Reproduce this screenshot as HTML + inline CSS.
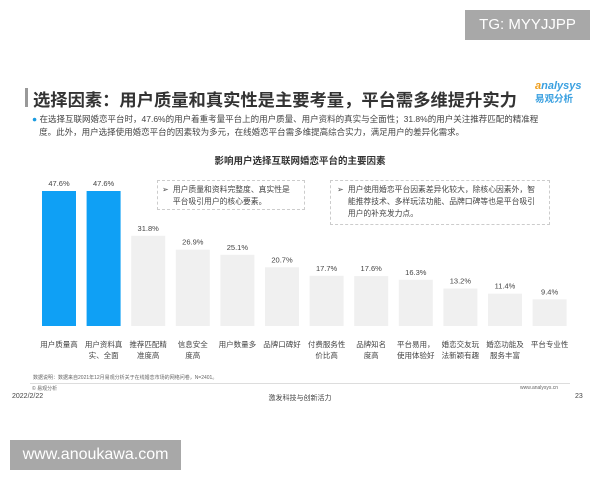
<!DOCTYPE html>
<html><head><meta charset="utf-8"><style>
body{margin:0;width:600px;height:480px;background:#fff;position:relative;overflow:hidden;font-family:"Liberation Sans","Noto Sans CJK SC",sans-serif;}
.a{position:absolute;}
</style></head><body>
<div class="a" style="left:465px;top:10px;width:125px;height:30px;background:#a8a8a8;color:#fff;font-size:15px;line-height:30px;text-align:center;">TG: MYYJJPP</div>
<div class="a" style="left:25px;top:88px;width:3px;height:19px;background:#999;"></div>
<div class="a" style="left:33px;top:86px;font-size:17.3px;font-weight:bold;color:#333;white-space:nowrap;">选择因素：用户质量和真实性是主要考量，平台需多维提升实力</div>
<div class="a" style="left:535px;top:80px;font-size:11px;color:#3aa0e0;font-style:italic;font-weight:bold;line-height:13px;"><span style="color:#f0a020">a</span>nalysys<br><span style="font-size:9.5px;font-style:normal;">易观分析</span></div>
<div class="a" style="left:32px;top:113px;width:560px;font-size:8.5px;line-height:13px;color:#444;white-space:nowrap;"><span style="color:#1a9be0">●</span> 在选择互联网婚恋平台时，47.6%的用户着重考量平台上的用户质量、用户资料的真实与全面性；31.8%的用户关注推荐匹配的精准程<br>&nbsp;&nbsp;&nbsp;度。此外，用户选择使用婚恋平台的因素较为多元，在线婚恋平台需多维提高综合实力，满足用户的差异化需求。</div>
<div class="a" style="left:0;width:600px;top:153px;text-align:center;font-size:9.5px;font-weight:bold;color:#333;">影响用户选择互联网婚恋平台的主要因素</div>
<div class="a" style="left:157px;top:180px;width:148px;height:30px;border:1px dashed #ccc;font-size:7.8px;line-height:12px;color:#444;padding:3px 0 0 4px;box-sizing:border-box;">➢&nbsp; 用户质量和资料完整度、真实性是<br>&nbsp;&nbsp;&nbsp;&nbsp;&nbsp;平台吸引用户的核心要素。</div>
<div class="a" style="left:330px;top:180px;width:220px;height:45px;border:1px dashed #ccc;font-size:7.8px;line-height:12px;color:#444;padding:3px 0 0 6px;box-sizing:border-box;">➢&nbsp; 用户使用婚恋平台因素差异化较大，除核心因素外，智<br>&nbsp;&nbsp;&nbsp;&nbsp;&nbsp;能推荐技术、多样玩法功能、品牌口碑等也是平台吸引<br>&nbsp;&nbsp;&nbsp;&nbsp;&nbsp;用户的补充发力点。</div>
<svg class="a" style="left:0;top:0" width="600" height="480" id="chart"></svg>
<div class="a" style="left:33px;top:374px;font-size:5px;color:#666;">数据说明：数据来自2021年12月易观分析关于在线婚恋市场的网络问卷，N=2401。</div>
<div class="a" style="left:30px;top:383px;width:540px;height:1px;background:#ddd;"></div>
<div class="a" style="left:32px;top:385px;font-size:5px;color:#666;">© 易观分析</div>
<div class="a" style="left:12px;top:393px;font-size:7px;color:#444;">2022/2/22</div>
<div class="a" style="left:0;width:600px;text-align:center;top:393px;font-size:7px;color:#444;">激发科技与创新活力</div>
<div class="a" style="left:520px;top:385px;font-size:5px;color:#666;">www.analysys.cn</div>
<div class="a" style="left:575px;top:393px;font-size:7px;color:#444;">23</div>
<div class="a" style="left:10px;top:440px;width:171px;height:30px;background:#a8a8a8;color:#fff;font-size:16px;line-height:30px;text-align:center;">www.anoukawa.com</div>
<script>
const categories=["用户质量高","用户资料真\n实、全面","推荐匹配精\n准度高","信息安全\n度高","用户数量多","品牌口碑好","付费服务性\n价比高","品牌知名\n度高","平台易用，\n使用体验好","婚恋交友玩\n法新颖有趣","婚恋功能及\n服务丰富","平台专业性"];
const values=[47.6,47.6,31.8,26.9,25.1,20.7,17.7,17.6,16.3,13.2,11.4,9.4];
const highlight=[true,true,false,false,false,false,false,false,false,false,false,false];
const svg=document.getElementById('chart');
const NS='http://www.w3.org/2000/svg';
const base=326,scale=135/47.6,x0=42,step=44.6,bw=34;
const y=v=>base-v*scale, x=i=>x0+i*step;
categories.forEach((c,i)=>{
 const r=document.createElementNS(NS,'rect');
 r.setAttribute('x',x(i));r.setAttribute('y',y(values[i]));r.setAttribute('width',bw);r.setAttribute('height',base-y(values[i]));
 r.setAttribute('fill',highlight[i]?'#0fa0f5':'#f0f0f0');
 
 
 svg.appendChild(r);
 const t=document.createElementNS(NS,'text');
 t.setAttribute('x',x(i)+bw/2);t.setAttribute('y',y(values[i])-5);t.setAttribute('text-anchor','middle');
 t.setAttribute('font-size','7.5');t.setAttribute('fill','#444');t.textContent=values[i].toFixed(1)+'%';
 
 
 svg.appendChild(t);
 c.split('\n').forEach((ln,k)=>{
  const l=document.createElementNS(NS,'text');
  l.setAttribute('x',x(i)+bw/2);l.setAttribute('y',347+k*11);l.setAttribute('text-anchor','middle');
  l.setAttribute('font-size','7.5');l.setAttribute('fill','#444');l.textContent=ln;
  
  
  svg.appendChild(l);
 });
});
</script>
</body></html>
